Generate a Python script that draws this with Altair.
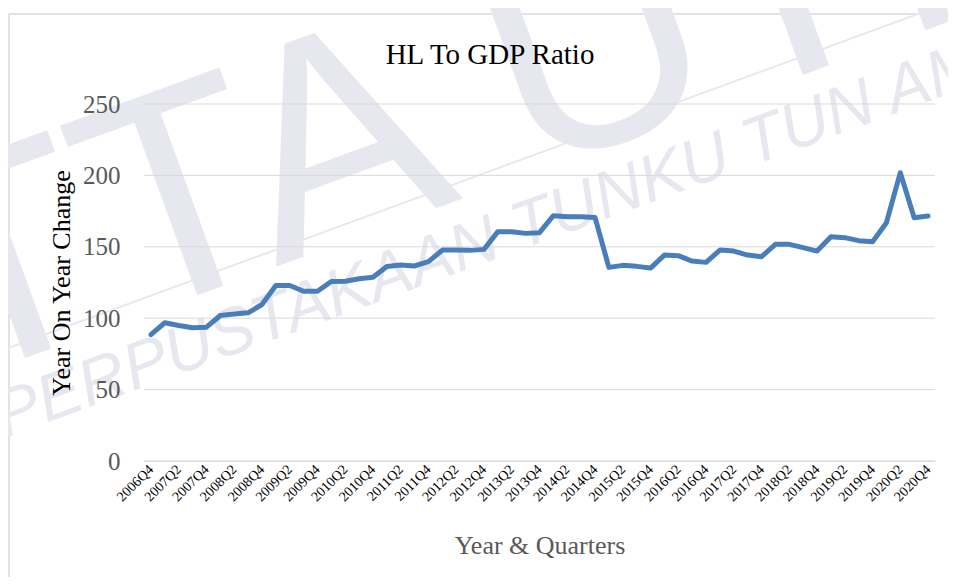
import altair as alt
import pandas as pd

quarters = ["2006Q4"] + [f"{y}Q{q}" for y in range(2007, 2021) for q in (1, 2, 3, 4)]

ratio = [
    88.5, 96.8, 94.9, 93.3, 93.7, 101.9, 103.0, 103.8, 109.6, 122.9,
    122.9, 118.9, 118.9, 125.7, 125.9, 127.6, 128.7, 136.2, 137.3, 136.6,
    139.6, 147.7, 147.7, 147.5, 148.2, 160.6, 160.6, 159.4, 159.9, 171.8,
    171.1, 171.1, 170.6, 135.6, 137.0, 136.3, 135.1, 144.2, 143.8, 140.0,
    139.1, 147.7, 147.0, 144.2, 143.1, 151.7, 151.7, 149.4, 147.0, 157.0,
    156.4, 154.3, 153.6, 166.9, 201.9, 170.4, 171.5,
]

shown_labels = quarters[::2]
y_ticks = [0, 50, 100, 150, 200, 250]

chart_title = "HL To GDP Ratio"
watermark_text = "PERPUSTAKAAN TUNKU TUN AMINAH"
watermark_big = "PTTA UTHM"

df = pd.DataFrame({"quarter": quarters, "ratio": ratio})
grid_df = pd.DataFrame({"ratio": y_ticks})

FONT = "Liberation Serif"
W, H = 791, 357
WM = "#E7E7F0"
one = alt.Data(values=[{}])

y_axis = alt.Axis(
    values=y_ticks,
    title="Year On Year Change",
    titleFont=FONT,
    titleFontSize=26,
    titleFontWeight="normal",
    titleColor="#000000",
    titleAngle=-90,
    titleX=-83,
    titleY=H / 2,
    titleAlign="center",
    titleBaseline="middle",
    labelFont=FONT,
    labelFontSize=25,
    labelColor="#595959",
    labelPadding=24,
    ticks=False,
    domain=False,
    grid=False,
    zindex=1,
)
y_scale = alt.Scale(domain=[0, 250], nice=False)

# Excel chart-area border (decoration)
frame = alt.Chart(one).mark_rect(
    fillOpacity=0, stroke="#D9D9D9", strokeWidth=1.5
).encode(
    x=alt.value(-135), x2=alt.value(1500), y=alt.value(-90), y2=alt.value(1000)
)

# faint watermark (decoration)
wm_big = alt.Chart(one).mark_text(
    font="Liberation Sans", fontSize=300, color=WM,
    angle=340, align="left", baseline="alphabetic"
).encode(
    x=alt.value(-236 - 144), y=alt.value(453 - 104), text=alt.value(watermark_big)
)
wm_line = alt.Chart(one).mark_rule(color=WM, strokeWidth=2).encode(
    x=alt.value(-144), y=alt.value(247), x2=alt.value(812), y2=alt.value(-104)
)
wm_text = alt.Chart(one).mark_text(
    font="Liberation Sans", fontSize=66, fontStyle="italic", color=WM,
    angle=340, align="center", baseline="alphabetic"
).encode(
    x=alt.value(570 - 144), y=alt.value(232 - 104), text=alt.value(watermark_text)
)

grid = alt.Chart(grid_df).mark_rule(color="#D9D9D9", strokeWidth=1).encode(
    y=alt.Y("ratio:Q", scale=y_scale, axis=y_axis)
)

title = alt.Chart(one).mark_text(
    font=FONT, fontSize=29, color="#000000", align="center", baseline="alphabetic"
).encode(
    x=alt.value(490 - 144), y=alt.value(64 - 104), text=alt.value(chart_title)
)

line = alt.Chart(df).mark_line(
    color="#4A7EBB", strokeWidth=5, strokeJoin="round", strokeCap="round"
).encode(
    x=alt.X(
        "quarter:O",
        sort=quarters,
        scale=alt.Scale(type="point", padding=0.5),
        axis=alt.Axis(
            values=shown_labels,
            title="Year & Quarters",
            titleFont=FONT,
            titleFontSize=26,
            titleFontWeight="normal",
            titleColor="#595959",
            titleX=W / 2,
            titleY=84,
            titleBaseline="middle",
            labelFont=FONT,
            labelFontSize=14,
            labelColor="#000000",
            labelAngle=-45,
            labelAlign="right",
            labelBaseline="middle",
            labelPadding=6,
            ticks=False,
            grid=False,
            domainColor="#D9D9D9",
            domainWidth=1,
            zindex=1,
        ),
    ),
    y=alt.Y("ratio:Q", scale=y_scale, axis=y_axis),
)

chart = alt.layer(frame, wm_big, wm_line, wm_text, grid, line, title).properties(
    width=W,
    height=H,
    background="white",
    autosize=alt.AutoSizeParams(type="none"),
    padding={"left": 136, "top": 96, "right": 13, "bottom": 116},
).configure_view(stroke="transparent", strokeWidth=0)

chart.save("out.html", embed_options={"renderer": "svg", "actions": False})
